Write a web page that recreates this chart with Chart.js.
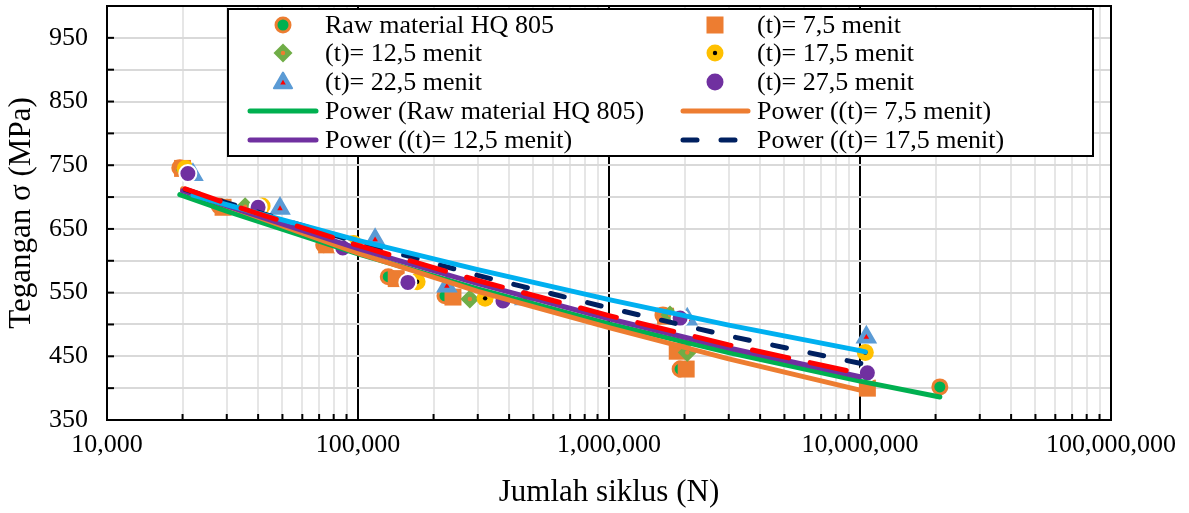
<!DOCTYPE html>
<html>
<head>
<meta charset="utf-8">
<script src="https://cdn.jsdelivr.net/npm/chart.js@4.4.1/dist/chart.umd.min.js"></script>
<style>
  html, body { margin: 0; padding: 0; background: #fff; }
  #wrap { width: 1189px; height: 513px; }
</style>
</head>
<body>
<div id="wrap"><canvas id="snChart" width="1189" height="513"></canvas></div>
<script>
// measured points (N = cycles, S = stress in MPa)
const rawN = [19500, 28000, 73000, 132000, 222000, 1640000, 1920000, 20800000];
const rawS = [746, 686, 625, 575, 545, 515, 430, 402];
const t75N = [20000, 29000, 75000, 142000, 239000, 1680000, 1870000, 2030000, 10700000];
const t75S = [745, 684, 625, 572, 543, 513, 458, 430, 400];
const t125N = [20500, 35500, 279000, 1750000, 2050000];
const t125S = [742, 685, 540, 515, 456];
const t175N = [20500, 41500, 96000, 172000, 321000, 10500000];
const t175S = [745, 686, 627, 567, 541, 456];
const t225N = [22000, 48900, 117000, 226000, 462000, 2050000, 10600000];
const t225S = [735, 682, 633, 560, 540, 508, 480];
const t275N = [21000, 40000, 87000, 158000, 378000, 1920000, 10700000];
const t275S = [737, 684, 620, 566, 537, 510, 424];

// power trendlines
const pRawN = [19500, 30000, 100000, 300000, 1000000, 3000000, 10000000, 20800000];
const pRawS = [704, 678, 611, 556, 501, 456, 411, 386];
const p75N = [20000, 30000, 100000, 300000, 1000000, 3000000, 10000000, 10700000];
const p75S = [713, 686, 612, 552, 495, 446, 397, 394];
const p125N = [20000, 30000, 100000, 300000, 1000000, 3000000, 10000000];
const p125S = [710, 686, 619, 564, 509, 463, 418];
const p175N = [20500, 30000, 100000, 300000, 1000000, 3000000, 10000000, 10300000];
const p175S = [712, 691, 629, 577, 526, 482, 439, 438];
const p225N = [22000, 30000, 100000, 300000, 1000000, 3000000, 10000000, 10500000];
const p225S = [703, 688, 632, 586, 539, 499, 459, 457];
const p275N = [20500, 30000, 100000, 300000, 1000000, 3000000, 10000000];
const p275S = [713, 690, 624, 569, 514, 468, 423];

const yTicks = [350, 400, 450, 500, 550, 600, 650, 700, 750, 800, 850, 900, 950, 1000];
const xDecades = [10000, 100000, 1000000, 10000000, 100000000];

const legendLeft = ['Raw material HQ 805', '(t)= 12,5 menit', '(t)= 22,5 menit',
    'Power (Raw material HQ 805)', 'Power ((t)= 12,5 menit)'];
const legendRight = ['(t)= 7,5 menit', '(t)= 17,5 menit', '(t)= 27,5 menit',
    'Power ((t)= 7,5 menit)', 'Power ((t)= 17,5 menit)'];

const GREEN = '#00B050', ORANGE = '#ED7D31', LGREEN = '#70AD47', YELLOW = '#FFC000',
    BLUE = '#5B9BD5', PURPLE = '#7030A0', NAVY = '#002060', SKY = '#00B0F0', RED = '#FF0000';

function pts(xs, ys) {
    return xs.map((x, i) => ({ x: x, y: ys[i] }));
}

function markers(xs, ys, style, order) {
    return Object.assign({ data: pts(xs, ys), order: order, showLine: false }, style);
}

function trend(xs, ys, color, order, dash) {
    return {
        data: pts(xs, ys), order: order, showLine: true, pointRadius: 0,
        borderColor: color, borderWidth: 5, borderDash: dash || [],
        borderCapStyle: 'round', tension: 0, fill: false
    };
}

const datasets = [
    markers(rawN, rawS, { pointStyle: 'circle', pointRadius: 7, backgroundColor: GREEN, borderColor: ORANGE, pointBorderWidth: 3 }, 20),
    markers(t75N, t75S, { pointStyle: 'rect', pointRadius: 12, backgroundColor: ORANGE, borderColor: ORANGE, pointBorderWidth: 0 }, 18),
    markers(t125N, t125S, { pointStyle: 'rectRot', pointRadius: 9.5, backgroundColor: LGREEN, borderColor: LGREEN, pointBorderWidth: 0 }, 16),
    markers(t125N, t125S, { pointStyle: 'circle', pointRadius: 2.2, backgroundColor: ORANGE, borderColor: ORANGE, pointBorderWidth: 0 }, 15),
    markers(t175N, t175S, { pointStyle: 'circle', pointRadius: 8.5, backgroundColor: YELLOW, borderColor: YELLOW, pointBorderWidth: 0 }, 14),
    markers(t175N, t175S, { pointStyle: 'circle', pointRadius: 2.2, backgroundColor: '#000', borderColor: '#000', pointBorderWidth: 0 }, 13),
    markers(t225N, t225S, { pointStyle: 'triangle', pointRadius: 10.5, backgroundColor: BLUE, borderColor: BLUE, pointBorderWidth: 2 }, 12),
    markers(t225N, t225S, { pointStyle: 'triangle', pointRadius: 3.2, backgroundColor: RED, borderColor: RED, pointBorderWidth: 0 }, 11),
    markers(t275N, t275S, { pointStyle: 'circle', pointRadius: 8.5, backgroundColor: PURPLE, borderColor: '#fff', pointBorderWidth: 2 }, 10),
    trend(pRawN, pRawS, GREEN, 8),
    trend(p75N, p75S, ORANGE, 7),
    trend(p125N, p125S, PURPLE, 6),
    trend(p175N, p175S, NAVY, 5, [14, 24]),
    trend(p225N, p225S, SKY, 4),
    trend(p275N, p275S, RED, 3, [37, 22])
];

function isDecade(v) {
    return xDecades.indexOf(v) !== -1;
}

function drawMarker(ctx, kind, x, y) {
    ctx.save();
    ctx.lineJoin = 'round';
    if (kind === 'raw') {
        ctx.beginPath(); ctx.arc(x, y, 7, 0, Math.PI * 2);
        ctx.fillStyle = GREEN; ctx.fill();
        ctx.lineWidth = 3; ctx.strokeStyle = ORANGE; ctx.stroke();
    } else if (kind === 'sq') {
        ctx.fillStyle = ORANGE; ctx.fillRect(x - 8.5, y - 8.5, 17, 17);
    } else if (kind === 'dia') {
        ctx.beginPath();
        ctx.moveTo(x, y - 9.5); ctx.lineTo(x + 9.5, y); ctx.lineTo(x, y + 9.5); ctx.lineTo(x - 9.5, y);
        ctx.closePath(); ctx.fillStyle = LGREEN; ctx.fill();
        ctx.beginPath(); ctx.arc(x, y, 2.2, 0, Math.PI * 2); ctx.fillStyle = ORANGE; ctx.fill();
    } else if (kind === 'yel') {
        ctx.beginPath(); ctx.arc(x, y, 8.5, 0, Math.PI * 2); ctx.fillStyle = YELLOW; ctx.fill();
        ctx.beginPath(); ctx.arc(x, y, 2.2, 0, Math.PI * 2); ctx.fillStyle = '#000'; ctx.fill();
    } else if (kind === 'tri') {
        const tri = (r, c, lw) => {
            ctx.beginPath();
            for (let k = 0; k < 3; k++) {
                const a = -Math.PI / 2 + k * 2 * Math.PI / 3;
                const px = x + Math.cos(a) * r, py = y + 1 + Math.sin(a) * r;
                if (k === 0) ctx.moveTo(px, py); else ctx.lineTo(px, py);
            }
            ctx.closePath(); ctx.fillStyle = c; ctx.fill();
            if (lw) { ctx.lineWidth = lw; ctx.strokeStyle = c; ctx.stroke(); }
        };
        tri(10.5, BLUE, 2); tri(3.2, RED, 0);
    } else if (kind === 'pur') {
        ctx.beginPath(); ctx.arc(x, y, 8.5, 0, Math.PI * 2); ctx.fillStyle = PURPLE; ctx.fill();
    }
    ctx.restore();
}

function drawSample(ctx, color, x1, x2, y, dash) {
    ctx.save();
    ctx.strokeStyle = color; ctx.lineWidth = 5; ctx.lineCap = 'round';
    ctx.setLineDash(dash || []);
    ctx.beginPath(); ctx.moveTo(x1, y); ctx.lineTo(x2, y); ctx.stroke();
    ctx.restore();
}

const framePlugin = {
    id: 'framePlugin',
    afterDraw(chart) {
        const ctx = chart.ctx, a = chart.chartArea, xs = chart.scales.x, ys = chart.scales.y;
        ctx.save();
        ctx.strokeStyle = '#000';
        ctx.lineWidth = 2;
        // plot frame (top and right)
        ctx.beginPath();
        ctx.moveTo(a.left, a.top); ctx.lineTo(a.right, a.top); ctx.lineTo(a.right, a.bottom);
        ctx.stroke();
        // inside tick marks
        yTicks.forEach(v => {
            const py = ys.getPixelForValue(v);
            ctx.beginPath(); ctx.moveTo(a.left, py); ctx.lineTo(a.left + 7, py); ctx.stroke();
        });
        xs.ticks.forEach(t => {
            const px = xs.getPixelForValue(t.value);
            ctx.beginPath(); ctx.moveTo(px, a.bottom); ctx.lineTo(px, a.bottom - 6); ctx.stroke();
        });

        // legend box
        const bx = 228, by = 9, bw = 865, bh = 147;
        ctx.fillStyle = '#fff';
        ctx.fillRect(bx, by, bw, bh);
        ctx.lineWidth = 2;
        ctx.strokeRect(bx, by, bw, bh);

        const rows = [25, 53, 82, 111, 140];
        const leftKinds = ['raw', 'dia', 'tri'];
        const rightKinds = ['sq', 'yel', 'pur'];
        for (let i = 0; i < 3; i++) {
            drawMarker(ctx, leftKinds[i], 283, rows[i]);
            drawMarker(ctx, rightKinds[i], 715, rows[i]);
        }
        drawSample(ctx, GREEN, 250, 316, rows[3]);
        drawSample(ctx, PURPLE, 250, 316, rows[4]);
        drawSample(ctx, ORANGE, 683, 748, rows[3]);
        drawSample(ctx, NAVY, 683, 748, rows[4], [14, 24]);

        ctx.fillStyle = '#000';
        ctx.font = "26px 'Liberation Serif', 'Times New Roman', serif";
        ctx.textBaseline = 'middle';
        ctx.textAlign = 'left';
        legendLeft.forEach((s, i) => ctx.fillText(s, 325, rows[i] + 1));
        legendRight.forEach((s, i) => ctx.fillText(s, 757, rows[i] + 1));
        ctx.restore();
    }
};

Chart.defaults.font.family = "'Liberation Serif', 'Times New Roman', serif";
Chart.defaults.color = '#000';

new Chart(document.getElementById('snChart').getContext('2d'), {
    type: 'scatter',
    data: { datasets: datasets },
    options: {
        responsive: false,
        animation: false,
        layout: { autoPadding: false, padding: { top: 6, right: 78, left: 0, bottom: 0 } },
        plugins: {
            legend: { display: false },
            tooltip: { enabled: false }
        },
        scales: {
            x: {
                type: 'logarithmic',
                min: 10000,
                max: 100000000,
                afterBuildTicks: (scale) => {
                    const ticks = [];
                    for (let d = 0; d < xDecades.length - 1; d++) {
                        for (let m = 1; m <= 9; m++) ticks.push({ value: xDecades[d] * m });
                    }
                    ticks.push({ value: xDecades[xDecades.length - 1] });
                    scale.ticks = ticks;
                },
                afterFit: (scale) => {
                    scale.height = 93;
                    scale.paddingLeft = 0;
                    scale.paddingRight = 0;
                },
                border: { color: '#000', width: 2 },
                grid: {
                    drawTicks: false,
                    color: (c) => (c.tick && isDecade(c.tick.value)) ? '#000' : '#e6e6e6',
                    lineWidth: 2
                },
                ticks: {
                    autoSkip: false,
                    maxRotation: 0,
                    padding: 10,
                    font: { size: 26 },
                    callback: (v) => isDecade(v) ? Number(v).toLocaleString('en-US') : ''
                },
                title: {
                    display: true,
                    text: 'Jumlah siklus (N)',
                    font: { size: 31 },
                    padding: { top: 0, bottom: 2 }
                }
            },
            y: {
                min: 350,
                max: 1000,
                afterBuildTicks: (scale) => { scale.ticks = yTicks.map(v => ({ value: v })); },
                afterFit: (scale) => {
                    scale.width = 107;
                    scale.paddingTop = 0;
                    scale.paddingBottom = 0;
                },
                border: { color: '#000', width: 2 },
                grid: {
                    drawTicks: false,
                    color: (c) => (c.tick && c.tick.value === 1000) ? '#000' : '#d9d9d9',
                    lineWidth: 2
                },
                ticks: {
                    padding: 19,
                    font: { size: 26, lineHeight: 0.46 },
                    callback: (v) => ((v - 350) % 100 === 0 && v < 1000) ? String(v) : ''
                },
                title: {
                    display: true,
                    text: 'Tegangan σ (MPa)',
                    font: { size: 31 },
                    padding: { top: 3, bottom: 0 }
                }
            }
        }
    },
    plugins: [framePlugin]
});
</script>
</body>
</html>
